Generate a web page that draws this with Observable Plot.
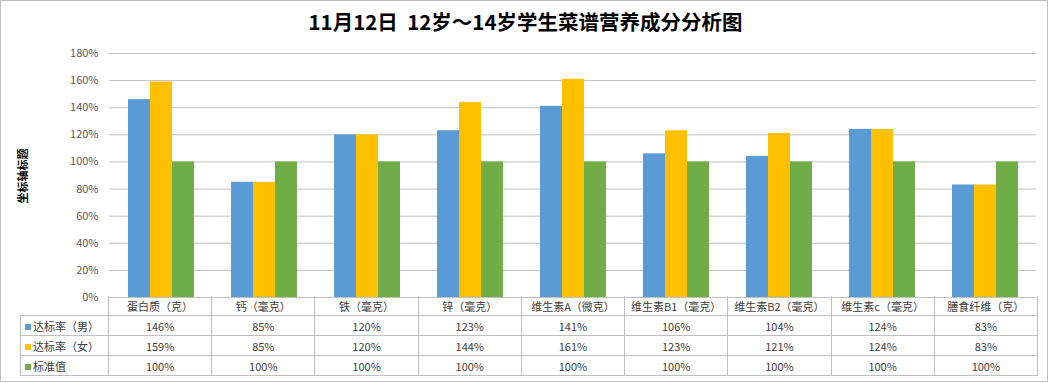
<!DOCTYPE html>
<html><head><meta charset="utf-8">
<script src="https://cdn.jsdelivr.net/npm/d3@7"></script>
<script src="https://cdn.jsdelivr.net/npm/@observablehq/plot@0.6"></script>
<style>
body{margin:0;background:#fff;font-family:"Noto Sans CJK SC","Noto Sans",sans-serif;}
#wrap{position:relative;width:1051px;height:383px;overflow:hidden;background:#fff;}
#frame{position:absolute;left:0;top:0;width:1046px;height:380px;border:1px solid #bfbfbf;}
#title{position:absolute;left:0;top:7px;width:1051px;text-align:center;font-size:20.5px;font-weight:bold;color:#000;line-height:28px;white-space:pre;}
#ylabel{position:absolute;left:22px;top:176px;transform:translate(-50%,-50%) rotate(-90deg);font-size:11px;font-weight:bold;color:#000;white-space:nowrap;}
#chart{position:absolute;left:0;top:0;}
#tbl{position:absolute;left:20px;top:296px;border-collapse:collapse;table-layout:fixed;font-size:11px;color:#404040;}
#tbl td{border:1px solid #bfbfbf;text-align:center;padding:0;white-space:nowrap;overflow:hidden;height:19px;line-height:18px;}
#tbl td.blank{border:none;}
#tbl td.lab{text-align:left;padding-left:4px;}
.key{display:inline-block;width:6px;height:6px;margin-right:2px;vertical-align:middle;position:relative;top:-1px;}
</style></head>
<body>
<div id="wrap">
  <div id="frame"></div>
  <div id="title"></div>
  <div id="ylabel"></div>
  <div id="chart"></div>
  <table id="tbl"></table>
</div>
<script>
const titleText = "11月12日  12岁～14岁学生菜谱营养成分分析图";
const yAxisTitle = "坐标轴标题";
const categories = ["蛋白质（克）","钙（毫克）","铁（毫克）","锌（毫克）","维生素A（微克）","维生素B1（毫克）","维生素B2（毫克）","维生素c（毫克）","膳食纤维（克）"];
const seriesNames = ["达标率（男）","达标率（女）","标准值"];
const male = [146,85,120,123,141,106,104,124,83];
const female = [159,85,120,144,161,123,121,124,83];
const standard = [100,100,100,100,100,100,100,100,100];
const yTicks = [0,20,40,60,80,100,120,140,160,180];
const colors = ["#5B9BD5","#FFC000","#70AD47"];

const seriesValues = [male, female, standard];
const data = categories.flatMap((c, i) => seriesNames.map((s, j) => ({cat: c, series: s, value: seriesValues[j][i]})));

document.getElementById("title").textContent = titleText;
document.getElementById("ylabel").textContent = yAxisTitle;

const W = 1051, H = 383, mL = 108, mR = 14, mT = 53, mB = 86;
const chart = Plot.plot({
  width: W, height: H,
  marginTop: mT, marginBottom: mB, marginLeft: mL, marginRight: mR,
  style: {fontFamily: '"Noto Sans CJK SC","Noto Sans",sans-serif', fontSize: "11px", color: "#595959", background: "transparent"},
  fx: {domain: categories, padding: 0, axis: null, label: null},
  x: {domain: seriesNames, paddingInner: 0, paddingOuter: 0.74, axis: null, label: null},
  y: {domain: [0, 180], axis: null, label: null},
  color: {domain: seriesNames, range: colors},
  marks: [
    Plot.gridY(yTicks, {stroke: "#bfbfbf", strokeOpacity: 1}),
    Plot.axisY(yTicks, {tickSize: 0, tickPadding: 11, tickFormat: d => d + "%", fill: "#595959", fontSize: 11, line: true, stroke: "#bfbfbf", strokeOpacity: 1, label: null}),
    Plot.barY(data, {fx: "cat", x: "series", y: "value", fill: "series"}),
    Plot.ruleY([0], {stroke: "#bfbfbf"})
  ]
});
document.getElementById("chart").appendChild(chart);

// data table
const colW = (W - mL - mR) / categories.length;
const tbl = document.getElementById("tbl");
const cg = document.createElement("colgroup");
const c0 = document.createElement("col"); c0.style.width = (mL - 20) + "px"; cg.appendChild(c0);
categories.forEach(() => { const c = document.createElement("col"); c.style.width = colW + "px"; cg.appendChild(c); });
tbl.appendChild(cg);
tbl.style.width = (mL - 20 + colW * categories.length) + "px";
const hr = document.createElement("tr");
const hb = document.createElement("td"); hb.className = "blank"; hr.appendChild(hb);
categories.forEach(c => { const td = document.createElement("td"); td.textContent = c; td.style.borderTop = "none"; hr.appendChild(td); });
tbl.appendChild(hr);
seriesNames.forEach((s, j) => {
  const tr = document.createElement("tr");
  const lab = document.createElement("td"); lab.className = "lab";
  const k = document.createElement("span"); k.className = "key"; k.style.background = colors[j];
  lab.appendChild(k); lab.appendChild(document.createTextNode(s));
  tr.appendChild(lab);
  seriesValues[j].forEach(v => { const td = document.createElement("td"); td.textContent = v + "%"; tr.appendChild(td); });
  tbl.appendChild(tr);
});
</script>
</body></html>
